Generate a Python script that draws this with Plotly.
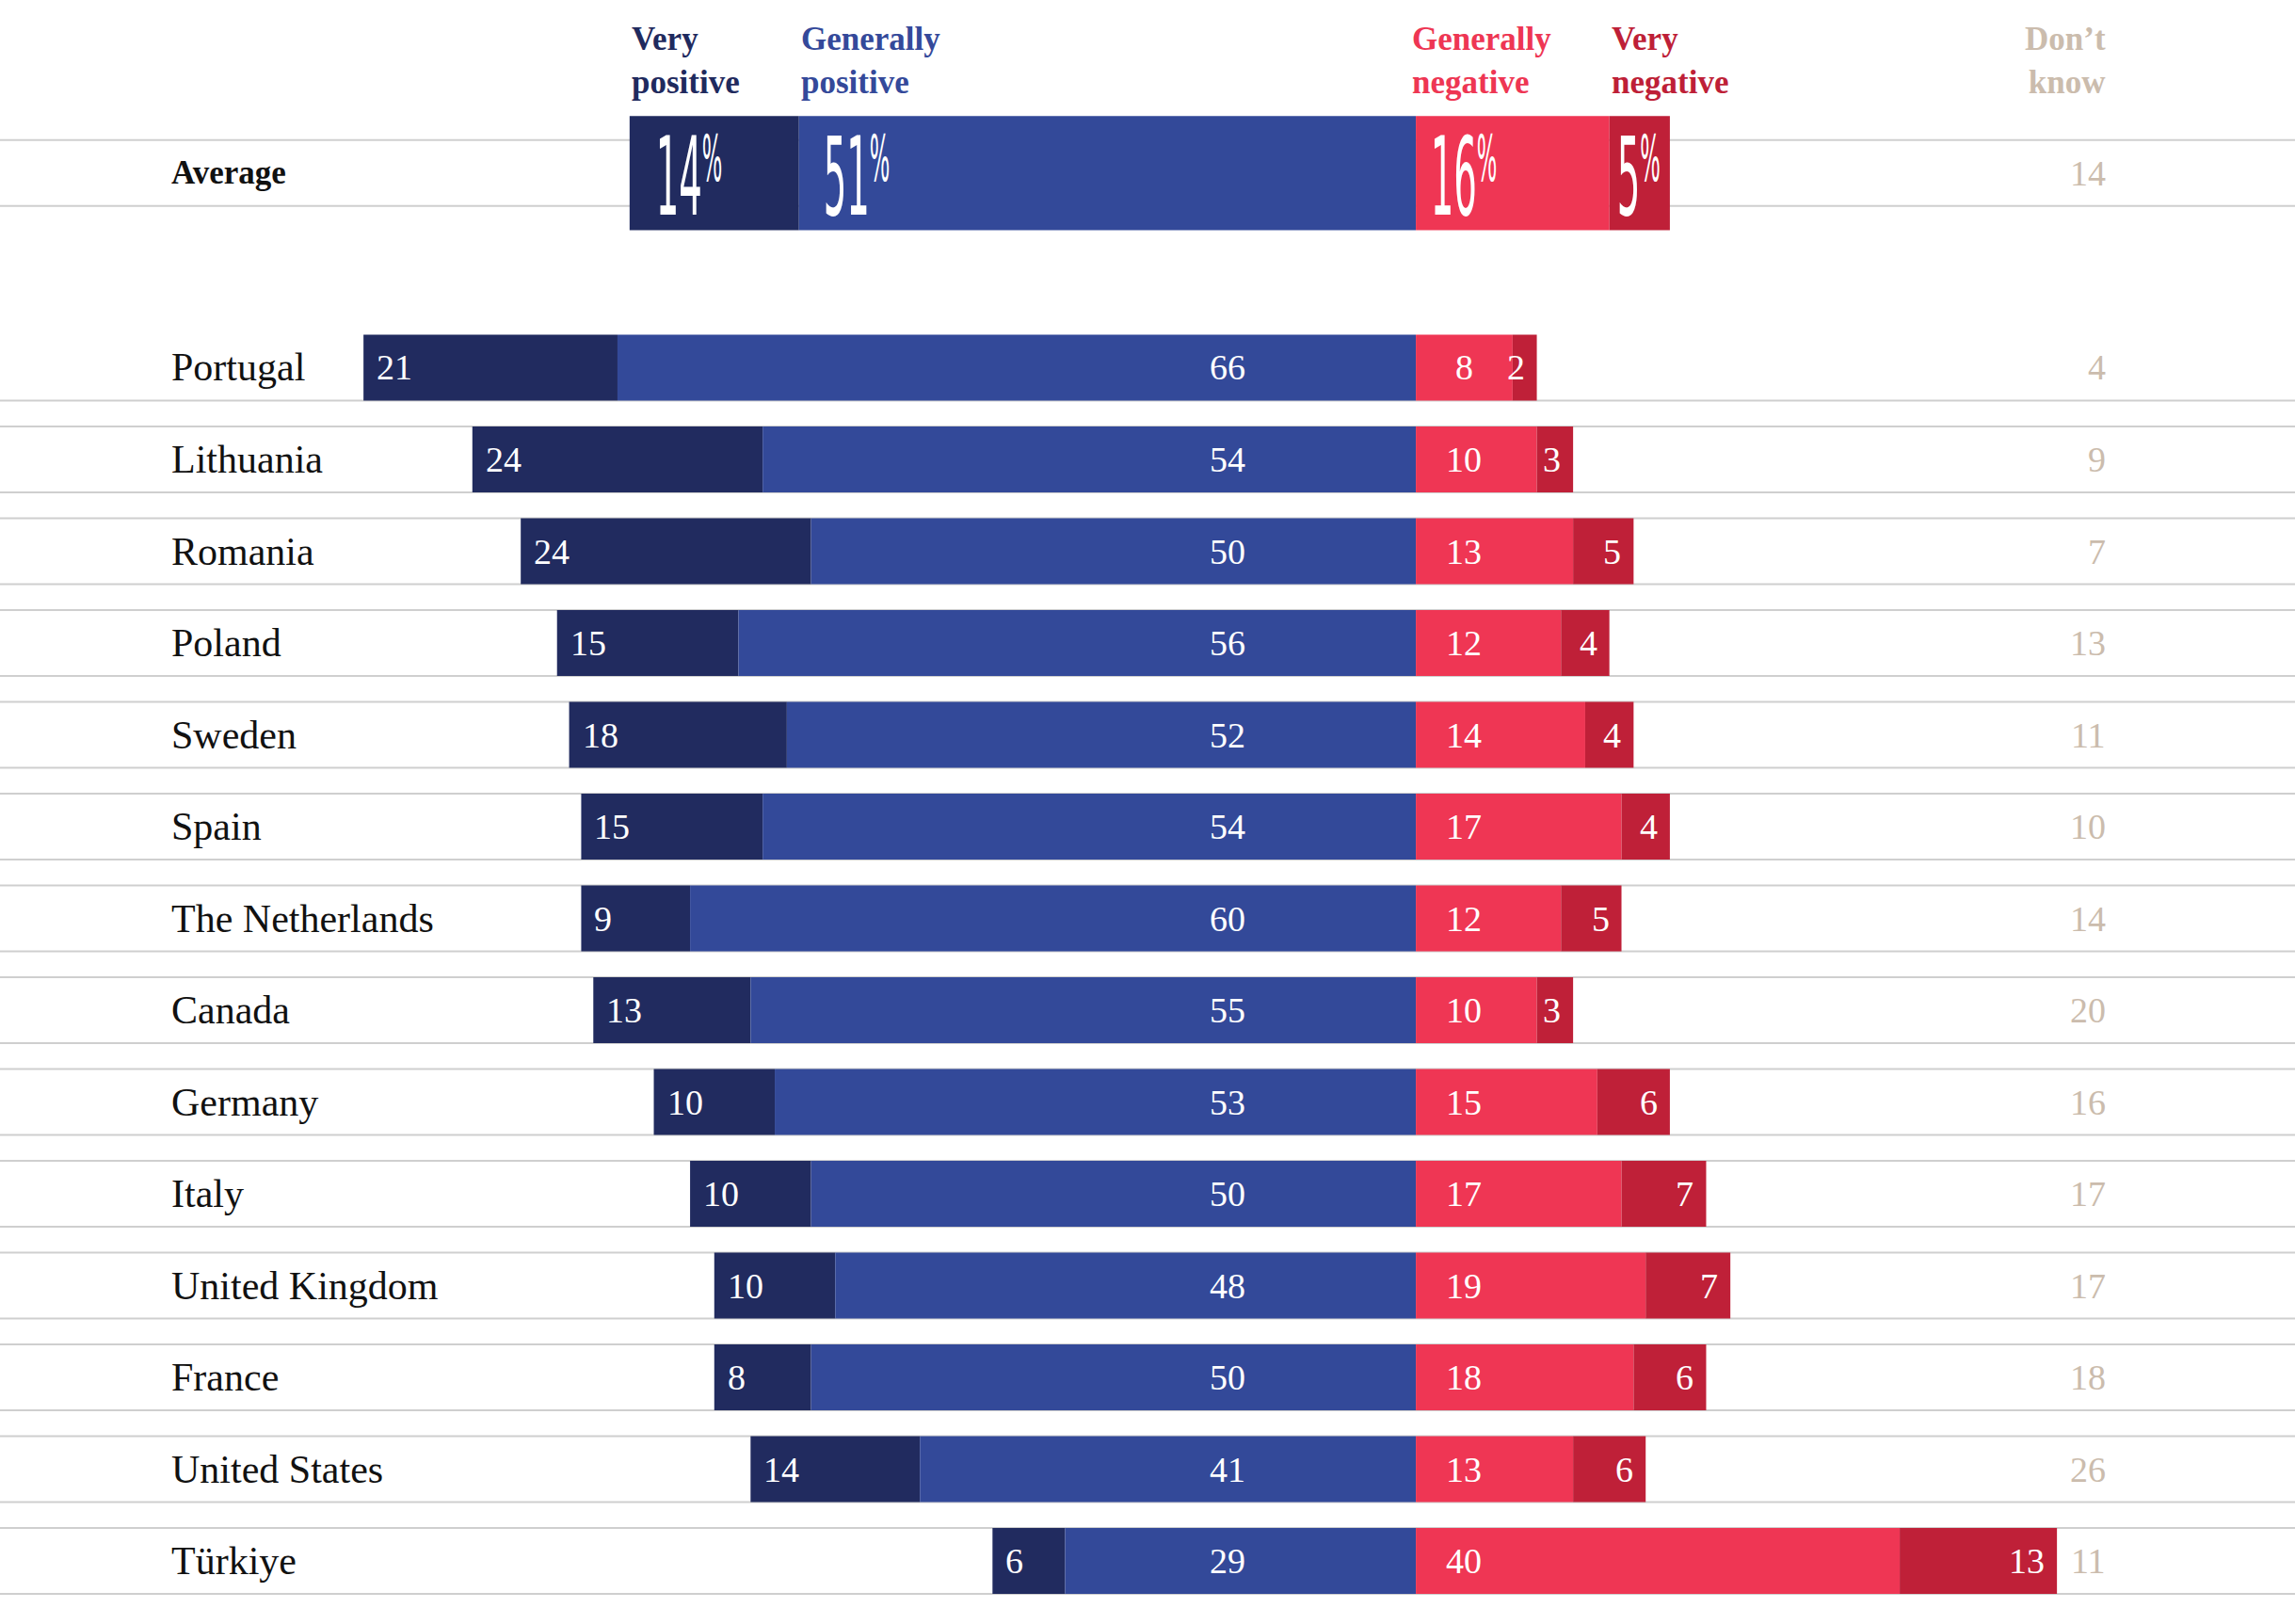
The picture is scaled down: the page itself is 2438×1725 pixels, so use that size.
import plotly.graph_objects as go

# data (% of respondents)
countries = ["Portugal", "Lithuania", "Romania", "Poland", "Sweden", "Spain",
             "The Netherlands", "Canada", "Germany", "Italy", "United Kingdom",
             "France", "United States", "Türkiye"]
very_pos = [21, 24, 24, 15, 18, 15, 9, 13, 10, 10, 10, 8, 14, 6]
gen_pos = [66, 54, 50, 56, 52, 54, 60, 55, 53, 50, 48, 50, 41, 29]
gen_neg = [8, 10, 13, 12, 14, 17, 12, 10, 15, 17, 19, 18, 13, 40]
very_neg = [2, 3, 5, 4, 4, 4, 5, 3, 6, 7, 7, 6, 6, 13]
dont_know = [4, 9, 7, 13, 11, 10, 14, 20, 16, 17, 17, 18, 26, 11]

avg_label = "Average"
avg_very_pos = 14
avg_gen_pos = 51
avg_gen_neg = 16
avg_very_neg = 5
avg_dont_know = 14

# colours
C_VP = "#212b5f"
C_GP = "#334999"
C_GN = "#ef3654"
C_VN = "#bf2038"
C_DK = "#cbbcad"
C_LINE = "#cfcfcf"
SERIF = "Liberation Serif, DejaVu Serif, serif"
CONDENSED = "DejaVu Sans Condensed, DejaVu Sans, sans-serif"

# row positions (average row sits above the countries)
avg_y = 2.12
row_y = [-i for i in range(len(countries))]
BAR_W = 0.718
AVG_W = 1.244

ys = [avg_y] + row_y
widths = [AVG_W] + [BAR_W] * len(countries)
vp = [avg_very_pos] + very_pos
gp = [avg_gen_pos] + gen_pos
gn = [avg_gen_neg] + gen_neg
vn = [avg_very_neg] + very_neg

fig = go.Figure()
fig.add_trace(go.Bar(y=ys, x=vp, base=[-(a + b) for a, b in zip(vp, gp)], width=widths,
                     orientation="h", marker_color=C_VP, marker_line_width=0, hoverinfo="skip"))
fig.add_trace(go.Bar(y=ys, x=gp, base=[-b for b in gp], width=widths,
                     orientation="h", marker_color=C_GP, marker_line_width=0, hoverinfo="skip"))
fig.add_trace(go.Bar(y=ys, x=gn, base=[0] * len(gn), width=widths,
                     orientation="h", marker_color=C_GN, marker_line_width=0, hoverinfo="skip"))
fig.add_trace(go.Bar(y=ys, x=vn, base=gn, width=widths,
                     orientation="h", marker_color=C_VN, marker_line_width=0, hoverinfo="skip"))

shapes = []
for i, y in enumerate(ys):
    half = BAR_W / 2
    for k, yy in enumerate([y + half, y - half]):
        if i == 1 and k == 0:
            continue  # no rule above the first country
        shapes.append(dict(type="line", xref="paper", x0=0, x1=1, yref="y", y0=yy, y1=yy,
                           line=dict(color=C_LINE, width=2), layer="below"))

ann = []
num_font = dict(family=SERIF, size=38, color="white")
GP_X = -15.6
GN_X = 4
DK_X = 57.2

for i, c in enumerate(countries):
    y = row_y[i]
    ann.append(dict(x=0.074, xref="paper", y=y, yref="y", text=c, showarrow=False,
                    xanchor="left", yanchor="middle", font=dict(family=SERIF, size=42, color="#111111")))
    ann.append(dict(x=-(very_pos[i] + gen_pos[i]), y=y, text=str(very_pos[i]), showarrow=False,
                    xanchor="left", xshift=12, font=num_font))
    ann.append(dict(x=GP_X, y=y, text=str(gen_pos[i]), showarrow=False,
                    xanchor="center", font=num_font))
    ann.append(dict(x=GN_X, y=y, text=str(gen_neg[i]), showarrow=False,
                    xanchor="center", font=num_font))
    ann.append(dict(x=gen_neg[i] + very_neg[i], y=y, text=str(very_neg[i]), showarrow=False,
                    xanchor="right", xshift=-11, font=num_font))
    ann.append(dict(x=DK_X, y=y, text=str(dont_know[i]), showarrow=False,
                    xanchor="right", font=dict(family=SERIF, size=38, color=C_DK)))

# average row
ann.append(dict(x=0.074, xref="paper", y=avg_y, yref="y", text="<b>" + avg_label + "</b>",
                showarrow=False, xanchor="left",
                font=dict(family=SERIF, size=35, color="#111111")))
big = dict(family=CONDENSED, size=116, color="white")
avg_starts = [-(avg_very_pos + avg_gen_pos), -avg_gen_pos, 0, avg_gen_neg]
avg_vals = [avg_very_pos, avg_gen_pos, avg_gen_neg, avg_very_neg]
avg_shift = [20, 18, 8, 0]
for s, v, sh in zip(avg_starts, avg_vals, avg_shift):
    ann.append(dict(x=s, y=avg_y, text=f"{v}<sup>%</sup>", showarrow=False,
                    xanchor="left", xshift=sh, yshift=4, font=big))
ann.append(dict(x=DK_X, y=avg_y, text=str(avg_dont_know), showarrow=False,
                xanchor="right", font=dict(family=SERIF, size=38, color=C_DK)))

# column headers
head_y = 3.34
heads = [
    ("Very<br>positive", -(avg_very_pos + avg_gen_pos), "left", "#1f2a5e"),
    ("Generally<br>positive", -avg_gen_pos, "left", "#34499a"),
    ("Generally<br>negative", -0.5, "left", "#ee3653"),
    ("Very<br>negative", avg_gen_neg, "left", "#be1f37"),
    ("Don’t<br>know", DK_X, "right", C_DK),
]
for t, x, anc, col in heads:
    ann.append(dict(x=x, y=head_y, text="<b>" + t + "</b>", showarrow=False, xanchor=anc,
                    yanchor="middle", align=anc,
                    font=dict(family=SERIF, size=35, color=col)))

fig.update_layout(
    width=2438, height=1725,
    margin=dict(l=0, r=0, t=0, b=0),
    barmode="overlay",
    showlegend=False,
    plot_bgcolor="white", paper_bgcolor="white",
    xaxis=dict(range=[-117.05, 72.68], visible=False, fixedrange=True),
    yaxis=dict(range=[-13.687, 4.005], visible=False, fixedrange=True),
    shapes=shapes,
    annotations=ann,
)

# drop the page margin and squeeze the big average figures into a tall condensed look
js = """
document.body.style.margin = '0';
document.querySelectorAll('text.annotation-text').forEach(function (t) {
    if (t.textContent.indexOf('%') < 0) return;
    t.querySelectorAll('tspan').forEach(function (s) {
        if (s.textContent === '%') {
            s.style.fontSize = '68px';
            s.setAttribute('dy', '-36');
        }
    });
    var bb = t.getBBox();
    var x0 = bb.x;
    t.setAttribute('transform',
        'translate(' + x0 + ',0) scale(0.37,1) translate(' + (-x0) + ',0)');
});
"""
fig.write_html("out.html", post_script=js, config={"displayModeBar": False})
